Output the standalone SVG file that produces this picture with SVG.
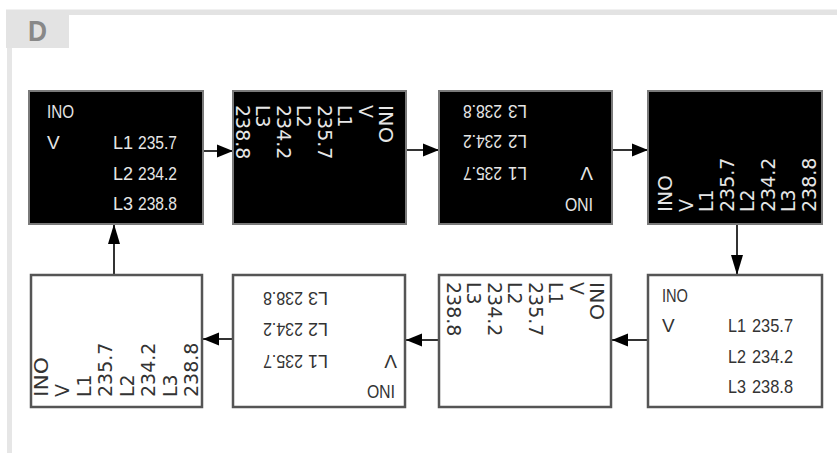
<svg xmlns="http://www.w3.org/2000/svg" width="837" height="453" viewBox="0 0 837 453">
<defs>
<style>
.bk{fill:#000;stroke:#7a7a7a;stroke-width:2}
.wt{fill:#fff;stroke:#555;stroke-width:2.5}
.c{font-family:"Liberation Sans",Arial,sans-serif;font-size:19px}
.r{font-family:"DejaVu Sans",Verdana,sans-serif;font-size:19px}
.lt{fill:#e6e6e6}
.dk{fill:#333}
.conn line{stroke:#333;stroke-width:2}
</style>
<marker id="ah" markerUnits="userSpaceOnUse" markerWidth="17" markerHeight="14" refX="16" refY="7" orient="auto">
<path d="M0,0.5 L16,7 L0,13.5 Z" fill="#000"/>
</marker>
<marker id="av" markerUnits="userSpaceOnUse" markerWidth="21" markerHeight="14" refX="20" refY="7" orient="auto">
<path d="M0,1 L20,7 L0,13 Z" fill="#000"/>
</marker>
</defs>
<rect width="837" height="453" fill="#fff"/>
<g id="frame">
<rect x="6" y="9.5" width="831" height="5.5" fill="#e3e3e3"/>
<rect x="6" y="15" width="63" height="33" fill="#e3e3e3"/>
<rect x="7" y="48" width="5" height="405" fill="#e6e6e6"/>
<text x="28" y="41" font-family="Liberation Sans,Arial,sans-serif" font-size="29" font-weight="bold" fill="#888" textLength="19" lengthAdjust="spacingAndGlyphs">D</text>
</g>
<g class="conn" id="connectors">
<line x1="203" y1="151" x2="233" y2="151" marker-end="url(#ah)"/>
<line x1="406" y1="150" x2="439" y2="150" marker-end="url(#ah)"/>
<line x1="612" y1="150" x2="648" y2="150" marker-end="url(#ah)"/>
<line x1="737" y1="224" x2="737" y2="275" marker-end="url(#av)"/>
<line x1="648" y1="340" x2="612" y2="340" marker-end="url(#ah)"/>
<line x1="439" y1="340" x2="406" y2="340" marker-end="url(#ah)"/>
<line x1="233" y1="339" x2="203" y2="339" marker-end="url(#ah)"/>
<line x1="114" y1="275" x2="114" y2="224" marker-end="url(#av)"/>
</g>
<g id="box1">
<rect class="bk" x="29" y="91" width="174" height="133"/>
<g class="c lt">
<text x="47" y="118" textLength="27" lengthAdjust="spacingAndGlyphs">INO</text>
<text x="47" y="149">V</text>
<text x="113" y="149" textLength="20" lengthAdjust="spacingAndGlyphs">L1</text>
<text x="138" y="149" textLength="39" lengthAdjust="spacingAndGlyphs">235.7</text>
<text x="113" y="180" textLength="20" lengthAdjust="spacingAndGlyphs">L2</text>
<text x="138" y="180" textLength="39" lengthAdjust="spacingAndGlyphs">234.2</text>
<text x="113" y="210" textLength="20" lengthAdjust="spacingAndGlyphs">L3</text>
<text x="138" y="210" textLength="39" lengthAdjust="spacingAndGlyphs">238.8</text>
</g>
</g>
<g id="box2">
<rect class="bk" x="233" y="91" width="173" height="133"/>
<g class="r lt">
<text transform="translate(379,105) rotate(90)" textLength="38" lengthAdjust="spacingAndGlyphs">INO</text>
<text transform="translate(358.5,105) rotate(90)">V</text>
<text transform="translate(338,105) rotate(90)">L1</text>
<text transform="translate(317.5,105) rotate(90)">235.7</text>
<text transform="translate(297,105) rotate(90)">L2</text>
<text transform="translate(276.5,105) rotate(90)">234.2</text>
<text transform="translate(256,105) rotate(90)">L3</text>
<text transform="translate(235.5,105) rotate(90)">238.8</text>
</g>
</g>
<g id="box3">
<rect class="bk" x="439" y="91" width="173" height="133"/>
<g class="c lt">
<text transform="translate(593,198) rotate(180)" textLength="28" lengthAdjust="spacingAndGlyphs">INO</text>
<text transform="translate(593,167) rotate(180)">V</text>
<text transform="translate(527,167) rotate(180)" textLength="19" lengthAdjust="spacingAndGlyphs">L1</text>
<text transform="translate(502,167) rotate(180)" textLength="39" lengthAdjust="spacingAndGlyphs">235.7</text>
<text transform="translate(527,135) rotate(180)" textLength="19" lengthAdjust="spacingAndGlyphs">L2</text>
<text transform="translate(502,135) rotate(180)" textLength="39" lengthAdjust="spacingAndGlyphs">234.2</text>
<text transform="translate(527,105) rotate(180)" textLength="19" lengthAdjust="spacingAndGlyphs">L3</text>
<text transform="translate(502,105) rotate(180)" textLength="39" lengthAdjust="spacingAndGlyphs">238.8</text>
</g>
</g>
<g id="box4">
<rect class="bk" x="648" y="91" width="174" height="133"/>
<g class="r lt">
<text transform="translate(672,212) rotate(-90)" textLength="37" lengthAdjust="spacingAndGlyphs">INO</text>
<text transform="translate(692.6,212) rotate(-90)">V</text>
<text transform="translate(713.1,212) rotate(-90)">L1</text>
<text transform="translate(733.7,212) rotate(-90)">235.7</text>
<text transform="translate(754.3,212) rotate(-90)">L2</text>
<text transform="translate(774.9,212) rotate(-90)">234.2</text>
<text transform="translate(795.4,212) rotate(-90)">L3</text>
<text transform="translate(816,212) rotate(-90)">238.8</text>
</g>
</g>
<g id="box5">
<rect class="wt" x="648" y="275" width="174" height="132"/>
<g class="c dk">
<text x="662" y="302" textLength="26" lengthAdjust="spacingAndGlyphs">INO</text>
<text x="662" y="332">V</text>
<text x="728" y="332" textLength="18" lengthAdjust="spacingAndGlyphs">L1</text>
<text x="752" y="332" textLength="41" lengthAdjust="spacingAndGlyphs">235.7</text>
<text x="728" y="363" textLength="18" lengthAdjust="spacingAndGlyphs">L2</text>
<text x="752" y="363" textLength="41" lengthAdjust="spacingAndGlyphs">234.2</text>
<text x="728" y="393" textLength="18" lengthAdjust="spacingAndGlyphs">L3</text>
<text x="752" y="393" textLength="41" lengthAdjust="spacingAndGlyphs">238.8</text>
</g>
</g>
<g id="box6">
<rect class="wt" x="439" y="275" width="172" height="132"/>
<g class="r dk">
<text transform="translate(590,282) rotate(90)" textLength="38" lengthAdjust="spacingAndGlyphs">INO</text>
<text transform="translate(569.5,282) rotate(90)">V</text>
<text transform="translate(549,282) rotate(90)">L1</text>
<text transform="translate(528.5,282) rotate(90)">235.7</text>
<text transform="translate(508,282) rotate(90)">L2</text>
<text transform="translate(487.5,282) rotate(90)">234.2</text>
<text transform="translate(467,282) rotate(90)">L3</text>
<text transform="translate(446.5,282) rotate(90)">238.8</text>
</g>
</g>
<g id="box7">
<rect class="wt" x="233" y="275" width="172" height="132"/>
<g class="c dk">
<text transform="translate(395,385) rotate(180)" textLength="28" lengthAdjust="spacingAndGlyphs">INO</text>
<text transform="translate(397,355) rotate(180)">V</text>
<text transform="translate(328,355) rotate(180)" textLength="20" lengthAdjust="spacingAndGlyphs">L1</text>
<text transform="translate(303,355) rotate(180)" textLength="40" lengthAdjust="spacingAndGlyphs">235.7</text>
<text transform="translate(328,323) rotate(180)" textLength="20" lengthAdjust="spacingAndGlyphs">L2</text>
<text transform="translate(303,323) rotate(180)" textLength="40" lengthAdjust="spacingAndGlyphs">234.2</text>
<text transform="translate(328,292) rotate(180)" textLength="20" lengthAdjust="spacingAndGlyphs">L3</text>
<text transform="translate(303,292) rotate(180)" textLength="40" lengthAdjust="spacingAndGlyphs">238.8</text>
</g>
</g>
<g id="box8">
<rect class="wt" x="31" y="275" width="171" height="132"/>
<g class="r dk">
<text transform="translate(48,397) rotate(-90)" textLength="40" lengthAdjust="spacingAndGlyphs">INO</text>
<text transform="translate(69.4,397) rotate(-90)">V</text>
<text transform="translate(90.9,397) rotate(-90)">L1</text>
<text transform="translate(112.3,397) rotate(-90)">235.7</text>
<text transform="translate(133.7,397) rotate(-90)">L2</text>
<text transform="translate(155.1,397) rotate(-90)">234.2</text>
<text transform="translate(176.6,397) rotate(-90)">L3</text>
<text transform="translate(198,397) rotate(-90)">238.8</text>
</g>
</g>
</svg>
